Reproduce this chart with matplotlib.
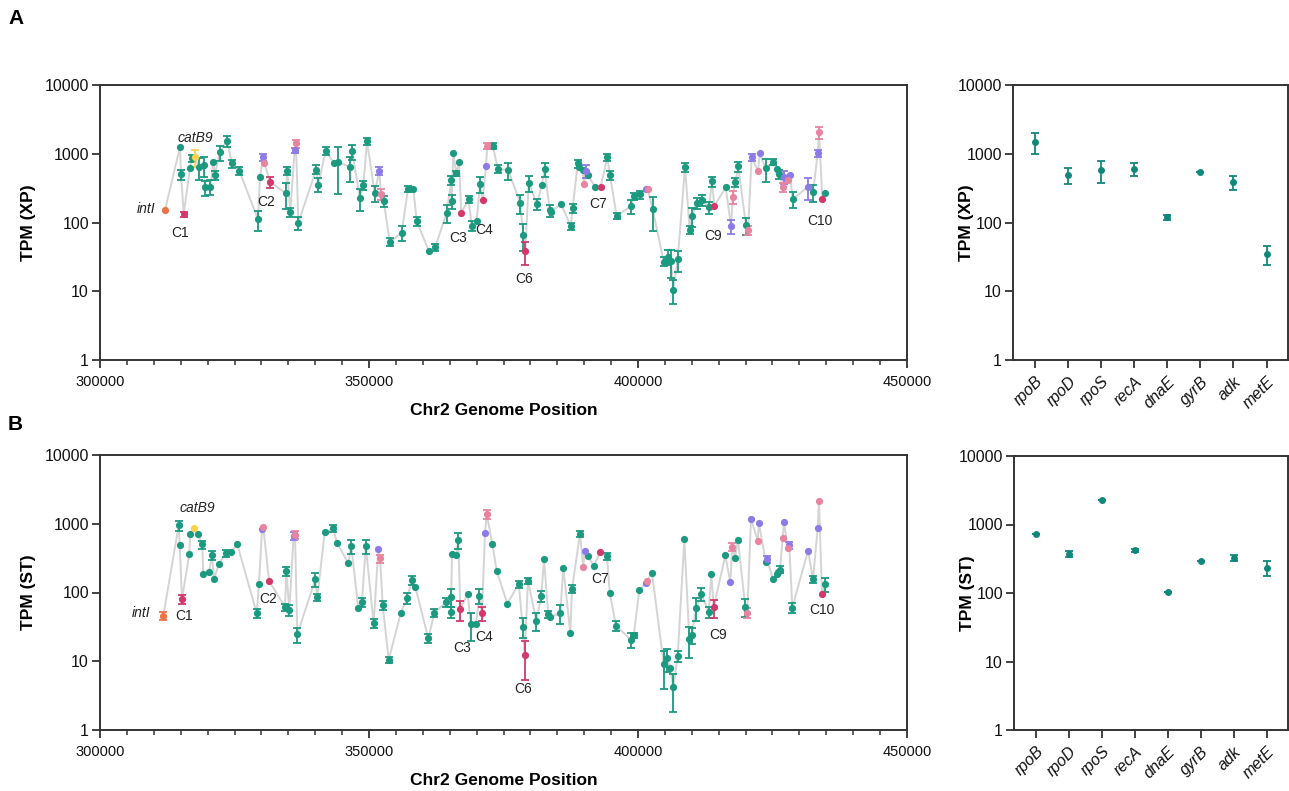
import matplotlib
matplotlib.use("Agg")
import matplotlib.pyplot as plt
from matplotlib.ticker import MultipleLocator, NullLocator
import numpy as np

plt.rcParams['font.family'] = ['Liberation Sans', 'DejaVu Sans']

# ---------------- data ----------------
colors = {'t': '#1b9a80', 'v': '#8c7ae6', 'p': '#e8849f', 'c': '#d2386a',
          'y': '#f6d24e', 'o': '#ee7444'}

posA = [312080, 314870, 315060, 315560, 316730, 317100, 317600, 318400, 319280, 319520,
        320500, 321060, 321380, 322250, 323610, 324540, 325890, 329370, 329740, 330300,
        330540, 331650, 334520, 334810, 335370, 336190, 336430, 336860, 340200, 340580,
        341950, 343490, 344240, 346410, 346900, 348270, 348940, 349630, 351060, 351910,
        352230, 352730, 353850, 356080, 357250, 358230, 358870, 361150, 362320, 364440,
        365300, 365370, 365670, 366230, 366730, 367160, 368530, 369090, 370020, 370630,
        371130, 371750, 371990, 373050, 373920, 375890, 378070, 378680, 379050, 379680,
        381230, 382100, 382660, 383590, 383890, 385690, 387490, 387860, 388790, 389090,
        389720, 389960, 390280, 390650, 392010, 393070, 394290, 394800, 396040, 398760,
        399310, 400370, 401430, 401800, 402730, 404780, 405580, 406130, 406560, 407380,
        408740, 409610, 410090, 410910, 411840, 413200, 413760, 414180, 416300, 417290,
        417600, 418090, 418640, 420070, 420450, 421130, 422310, 422620, 423740, 425150,
        425890, 426260, 427010, 427190, 427940, 428250, 428760, 431600, 432530, 433400,
        433640, 434260, 434810]
valA = [150, 1265, 505, 132, 626, 855, 885, 646, 684, 324,
        330, 756, 490, 1045, 1545, 723, 566, 111, 457, 885,
        723, 391, 265, 566, 143, 1130, 1410, 99, 590, 357,
        1105, 730, 756, 647, 1080, 229, 346, 1512, 268, 566,
        258, 205, 52, 71, 310, 310, 105, 38, 44, 139,
        409, 205, 1010, 517, 765, 139, 217, 89, 106, 366,
        212, 662, 1306, 1293, 605, 580, 194, 66, 38, 374,
        185, 346, 592, 150, 143, 187, 89, 163, 723, 633,
        580, 366, 560, 490, 331, 331, 885, 483, 124, 175,
        242, 256, 310, 306, 155, 27, 32, 27.5, 10.5, 29,
        640, 78, 125, 194, 214, 167, 395, 173, 324, 89,
        234, 383, 653, 91, 77, 885, 560, 1010, 612, 765,
        592, 506, 331, 462, 414, 490, 219, 331, 274, 1010,
        2040, 219, 268]
sdA = [0, 0, 85, 12, 0, 90, 250, 225, 220, 80,
       80, 0, 80, 270, 280, 100, 80, 35, 0, 100,
       0, 75, 110, 80, 22, 100, 200, 22, 85, 80,
       130, 0, 500, 260, 270, 80, 50, 180, 70, 80,
       45, 35, 7, 18, 30, 0, 15, 0, 5, 40,
       60, 50, 0, 50, 0, 0, 25, 15, 0, 100,
       0, 0, 150, 120, 80, 160, 60, 28, 14, 95,
       35, 0, 130, 30, 0, 0, 10, 25, 100, 0,
       0, 0, 120, 0, 0, 0, 100, 70, 12, 40,
       30, 35, 0, 0, 80, 4, 8, 12, 4, 10,
       90, 10, 40, 35, 40, 35, 65, 0, 0, 20,
       50, 55, 110, 25, 12, 100, 0, 0, 220, 80,
       0, 70, 50, 100, 0, 0, 55, 115, 75, 120,
       380, 0, 0]
colA = list("ottcttyttt" "tttttttttv" "pctttvpttt" "tttttttttv" "pttttttttt"
            "tttttctttt" "cvptttttct" "tttttttttt" "tpvttctttt" "ttvptttttt"
            "tttttttctv" "ptttpvpvtt" "ttpvpvtvtv" "pct")

posB = [311770, 314630, 314810, 315240, 316600, 316780, 317420, 318160, 319020, 319200,
        320260, 320820, 321190, 322060, 323360, 324290, 325520, 329130, 329550, 330110,
        330350, 331410, 334390, 334630, 335190, 336000, 336250, 336670, 340020, 340390,
        341770, 343310, 344110, 346150, 346710, 348010, 348700, 349390, 350870, 351730,
        352050, 352550, 353660, 355890, 357060, 357990, 358610, 361020, 362140, 364310,
        365190, 365220, 365430, 366170, 366600, 366970, 368350, 368900, 369890, 370500,
        371000, 371560, 371880, 372920, 373740, 375710, 377830, 378570, 378940, 379550,
        381100, 382030, 382530, 383330, 383700, 385560, 386120, 387420, 387730, 389220,
        389830, 390090, 390650, 391820, 392940, 394240, 394740, 395910, 398700, 399200,
        400240, 401430, 401730, 402600, 404780, 405340, 406000, 406560, 407380, 408610,
        409540, 409980, 410840, 411770, 413140, 413630, 414070, 416230, 417160, 417530,
        418030, 418590, 419940, 420320, 421000, 422250, 422490, 423740, 423980, 425090,
        425840, 426080, 426390, 426900, 427140, 427830, 428120, 428680, 431600, 432530,
        433400, 433640, 434200, 434700]
valB = [46, 945, 490, 80, 366, 716, 855, 707, 500, 185,
        198, 346, 157, 256, 370, 387, 500, 50, 134, 827,
        905, 148, 61, 205, 55.6, 668, 684, 24.5, 155, 85,
        748, 855, 518, 265, 473, 59, 73, 479, 35.5, 424,
        313, 65, 10.5, 50, 82, 152, 121, 21.5, 50.5, 72,
        87, 52, 363, 350, 580, 57, 96, 35, 35, 90,
        50, 730, 1383, 512, 205, 69, 133, 32, 12.4, 148,
        39, 89, 306, 48, 44, 50, 229, 25.6, 112, 716,
        232, 405, 335, 245, 391, 335, 99, 33, 20.4, 23.7,
        107, 136, 148, 194, 9.0, 11, 7.9, 4.2, 11.9, 598,
        21, 24, 60, 95, 52, 185, 61, 346, 140, 462,
        316, 572, 62, 51, 1183, 569, 1022, 274, 306, 155,
        183, 200, 216, 625, 1045, 447, 484, 60, 405, 155,
        870, 2140, 94, 131]
sdB = [6, 160, 0, 12, 0, 0, 0, 0, 70, 0,
       0, 50, 0, 0, 45, 0, 0, 8, 0, 0,
       0, 0, 8, 30, 10, 90, 90, 6, 35, 10,
       0, 100, 0, 0, 110, 0, 11, 110, 5, 0,
       40, 9, 1.2, 0, 15, 22, 0, 3, 7, 10,
       25, 10, 0, 0, 145, 18, 0, 15, 0, 22,
       12, 0, 200, 0, 0, 0, 15, 10, 7, 15,
       11, 17, 0, 6, 0, 15, 0, 0, 15, 80,
       0, 0, 0, 0, 0, 40, 0, 5, 5, 2,
       0, 0, 0, 0, 5, 4, 0, 2.4, 2, 0,
       10, 6, 22, 20, 9, 0, 18, 0, 0, 55,
       0, 0, 18, 8, 0, 0, 0, 0, 35, 0,
       0, 0, 25, 0, 0, 0, 55, 10, 0, 18,
       0, 0, 0, 30]
colB = list("ottcttyttt" "tttttttttv" "pctttvpttt" "tttttttttv" "pttttttttt"
            "tttttctttt" "cvptttttct" "tttttttttt" "pvttcttttt" "tvpttttttt"
            "ttttttctvp" "tttpvpvtvt" "tttpvpvtvt" "vpct")

labelsA = ['C1', 'C2', 'C3', 'C4', 'C6', 'C7', 'C9', 'C10']
labA_pos = [314870, 330860, 366540, 371380, 378810, 392570, 413940, 433830]
labA_val = [71, 200, 60, 78, 15, 187, 63, 105]
labB_pos = [315610, 331230, 367290, 371380, 378620, 392940, 414870, 434200]
labB_val = [46, 80, 15.6, 22.5, 3.9, 157, 24, 56]

genes = ['rpoB', 'rpoD', 'rpoS', 'recA', 'dnaE', 'gyrB', 'adk', 'metE']
ctrl_xp = [1500, 490, 580, 600, 120, 550, 390, 35]
ctrl_xp_sd = [520, 130, 200, 130, 10, 0, 90, 11]
ctrl_st = [720, 370, 2260, 420, 102, 290, 325, 234]
ctrl_st_sd = [0, 35, 0, 20, 0, 0, 35, 58]

# ---------------- figure ----------------
W, H = 1289, 791
fig = plt.figure(figsize=(W / 100, H / 100), dpi=100)


def rect(l, t, r, b):
    return [l / W, 1 - b / H, (r - l) / W, (b - t) / H]


axA = fig.add_axes(rect(100, 85, 907, 360))
axB = fig.add_axes(rect(100, 455, 907, 730))
axRA = fig.add_axes(rect(1013, 85, 1288, 360))
axRB = fig.add_axes(rect(1014, 456, 1288, 730))

spine_col = '#333333'


def style(ax):
    ax.set_yscale('log')
    ax.set_ylim(1, 10000)
    ax.set_yticks([1, 10, 100, 1000, 10000])
    ax.set_yticklabels(['1', '10', '100', '1000', '10000'])
    ax.yaxis.set_minor_locator(NullLocator())
    for s in ax.spines.values():
        s.set_color(spine_col)
        s.set_linewidth(1.4)
    ax.tick_params(axis='both', which='major', length=6, width=1.3,
                   color=spine_col, labelcolor='#111111')
    ax.tick_params(axis='y', labelsize=11.5, pad=2)
    ax.tick_params(axis='x', labelsize=10.5, pad=5)


def main_panel(ax, pos, val, sd, col, ylab):
    style(ax)
    n = min(len(pos), len(val), len(sd), len(col))
    pos = np.asarray(pos[:n], float); val = np.asarray(val[:n], float)
    sd = np.asarray(sd[:n], float); col = np.asarray(col[:n])
    order = np.argsort(pos, kind='stable')
    ax.plot(pos[order], val[order], color='#d4d4d4', lw=1.4, zorder=1)
    for key in ['t', 'v', 'p', 'c', 'y', 'o']:
        m = col == key
        if not m.any():
            continue
        me = m & (sd > 0)
        if me.any():
            ax.errorbar(pos[me], val[me], yerr=sd[me], fmt='none',
                        ecolor=colors[key], elinewidth=1.3, capsize=3,
                        capthick=1.3, zorder=2)
        ax.plot(pos[m], val[m], 'o', color=colors[key], ms=5.2,
                mec='none', zorder=3)
    ax.set_xlim(300000, 450000)
    ax.set_xticks([300000, 350000, 400000, 450000])
    ax.set_xticklabels(['300000', '350000', '400000', '450000'])
    ax.xaxis.set_minor_locator(MultipleLocator(5000))
    ax.tick_params(axis='x', which='minor', length=3.5, width=1.1,
                   color=spine_col)
    ax.set_xlabel('Chr2 Genome Position', fontsize=12.5, fontweight='bold',
                  labelpad=10)
    ax.set_ylabel(ylab, fontsize=12.5, fontweight='bold')
    ax.yaxis.set_label_coords((36 - 100) / 807, 0.5)


main_panel(axA, posA, valA, sdA, colA, 'TPM (XP)')
main_panel(axB, posB, valB, sdB, colB, 'TPM (ST)')

lab_kw = dict(fontsize=10, color='#222222', ha='center', va='center')
for t, x, y in zip(labelsA, labA_pos, labA_val):
    axA.text(x, y, t, **lab_kw)
for t, x, y in zip(labelsA, labB_pos, labB_val):
    axB.text(x, y, t, **lab_kw)

axA.text(310300, 155, 'intI', fontsize=10, style='italic', ha='right',
         va='center', color='#222222')
axA.text(317660, 1700, 'catB9', fontsize=10, style='italic', ha='center',
         va='center', color='#222222')
axB.text(309300, 50, 'intI', fontsize=10, style='italic', ha='right',
         va='center', color='#222222')
axB.text(318030, 1700, 'catB9', fontsize=10, style='italic', ha='center',
         va='center', color='#222222')


def ctrl_panel(ax, vals, sds, ylab):
    style(ax)
    x = np.arange(len(genes))
    ax.errorbar(x, vals, yerr=sds, fmt='o', color='#11877b', ms=5,
                mec='none', elinewidth=1.3, capsize=3, capthick=1.3)
    ax.set_xlim(-0.67, len(genes) - 1 + 0.65)
    ax.set_xticks(x)
    ax.set_xticklabels(genes, rotation=45, ha='right', rotation_mode='anchor',
                       style='italic', fontsize=11.5)
    ax.tick_params(axis='x', pad=4)
    ax.set_ylabel(ylab, fontsize=12.5, fontweight='bold')
    ax.yaxis.set_label_coords((974 - 1013) / 275, 0.5)


ctrl_panel(axRA, ctrl_xp, ctrl_xp_sd, 'TPM (XP)')
ctrl_panel(axRB, ctrl_st, ctrl_st_sd, 'TPM (ST)')

fig.text(8 / W, 1 - 18 / H, 'A', fontsize=15, fontweight='bold', va='center')
fig.text(8 / W, 1 - 425 / H, 'B', fontsize=15, fontweight='bold', va='center')

fig.savefig('out.png', dpi=100)
